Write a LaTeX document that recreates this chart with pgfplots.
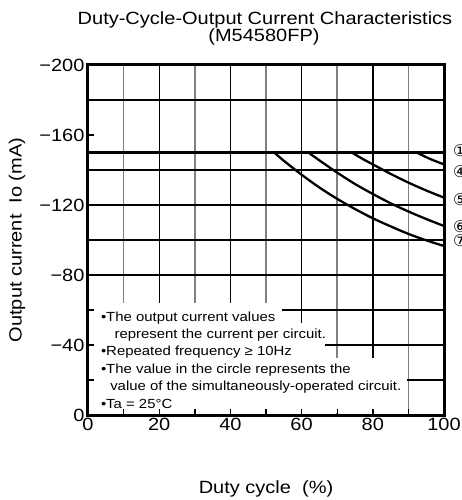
\documentclass[border=0pt]{standalone}
\usepackage{fontspec}
\setmainfont{Liberation Sans}[FakeStretch=1.13]
\newfontfamily\dejavu{DejaVu Sans}
\usepackage{pgfplots}
\pgfplotsset{compat=1.18}
\definecolor{gridgray}{RGB}{128,128,128}
\newcommand\bigf{\fontsize{17.7}{20}\selectfont}
\newcommand\annf{\fontsize{13.2}{15}\selectfont}
\newcommand\circf{\dejavu\fontsize{16}{16}\selectfont}
\begin{document}
\begin{tikzpicture}
\begin{axis}[
  at={(0pt,0pt)}, anchor=south west,
  width=356pt, height=350pt, scale only axis,
  xmin=0, xmax=100, ymin=-200, ymax=0, y dir=reverse,
  xtick={0,20,...,100}, xticklabels={0,20,40,60,80,100},
  minor xtick={10,30,...,90},
  ytick={-200,-120,-80,-40,0}, yticklabels={−200,−120,−80,−40,0},
  minor ytick={-180,-140,-100,-60,-20},
  extra y ticks={-160}, extra y tick labels={−160},
  extra y tick style={grid=none},
  xmajorgrids, xminorgrids, ymajorgrids, yminorgrids,
  major x grid style={black, line width=1.4pt},
  minor x grid style={gridgray, line width=1.6pt},
  major y grid style={black, line width=1.4pt},
  minor y grid style={black, line width=1.4pt},
  tick pos=left, tick align=inside,
  major tick length=6pt, minor tick length=6pt,
  tick style={line width=1.4pt, black},
  axis line style={line width=3pt},
  clip mode=individual,
  ticklabel style={font=\bigf},
]
\fill[white] (axis cs:0.45,-64) rectangle (axis cs:54.5,-52.6);
\fill[white] (axis cs:0.45,-52.6) rectangle (axis cs:66.6,-32.6);
\fill[white] (axis cs:0.45,-32.6) rectangle (axis cs:89.6,-0.9);
\pgfplotsinvokeforeach{10,20,...,80}{\draw[black,line width=1.4pt] (axis cs:#1,0) -- (axis cs:#1,-3.4);}
\pgfplotsinvokeforeach{-60,-40,-20}{\draw[black,line width=1.4pt] (axis cs:0,#1) -- (axis cs:1.7,#1);}
\node[anchor=base west, inner sep=0pt, font=\annf] at (axis cs:3.6,-53.7) {•The output current values};
\node[anchor=base west, inner sep=0pt, font=\annf] at (axis cs:7.4,-43.8) {represent the current per circuit.};
\node[anchor=base west, inner sep=0pt, font=\annf] at (axis cs:3.6,-33.9) {•Repeated frequency ≥ 10Hz};
\node[anchor=base west, inner sep=0pt, font=\annf] at (axis cs:3.6,-23.8) {•The value in the circle represents the};
\node[anchor=base west, inner sep=0pt, font=\annf] at (axis cs:6.2,-13.9) {value of the simultaneously-operated circuit.};
\node[anchor=base west, inner sep=0pt, font=\annf] at (axis cs:3.6,-3.8) {•Ta = 25°C};
\addplot[black, line width=3pt] coordinates {(0,-150) (100,-150)};
\addplot[black, line width=2.3pt, smooth] coordinates {(92.3,-150) (96,-146.4) (100,-143.2)};
\addplot[black, line width=2.3pt, smooth] coordinates {(74.1,-150) (77,-146.5) (80,-143.2) (85,-137.8) (90,-132.8) (95,-128.3) (100,-124.2)};
\addplot[black, line width=2.3pt, smooth] coordinates {(61.9,-150) (65,-145.5) (70,-138.5) (75,-132) (80,-126.3) (85,-121) (90,-116.3) (95,-112) (100,-108)};
\addplot[black, line width=2.3pt, smooth] coordinates {(52.3,-150) (55,-145.3) (60,-137.3) (65,-130) (70,-123.5) (75,-117.7) (80,-112.4) (85,-107.8) (90,-103.5) (95,-99.8) (100,-96.6)};
\node[anchor=west, inner sep=0pt, font=\circf] at (axis cs:102.5,-150.9) {①};
\node[anchor=west, inner sep=0pt, font=\circf] at (axis cs:102.5,-139) {④};
\node[anchor=west, inner sep=0pt, font=\circf] at (axis cs:102.5,-122.9) {⑤};
\node[anchor=west, inner sep=0pt, font=\circf] at (axis cs:102.5,-107.4) {⑥};
\node[anchor=west, inner sep=0pt, font=\circf] at (axis cs:102.5,-99.6) {⑦};
\end{axis}
\node[anchor=base, font=\bigf] at (177pt,390pt) {Duty-Cycle-Output Current Characteristics};
\node[anchor=base, font=\bigf] at (176pt,373.3pt) {(M54580FP)};
\node[anchor=base, font=\bigf] at (178pt,-78.3pt) {Duty cycle\ \ (\%)};
\node[rotate=90, font=\bigf] at (-71pt,175pt) {Output current\ \ Io (mA)};
\pgfresetboundingbox
\useasboundingbox (-88pt,-85pt) rectangle (374pt,415pt);
\end{tikzpicture}
\end{document}
